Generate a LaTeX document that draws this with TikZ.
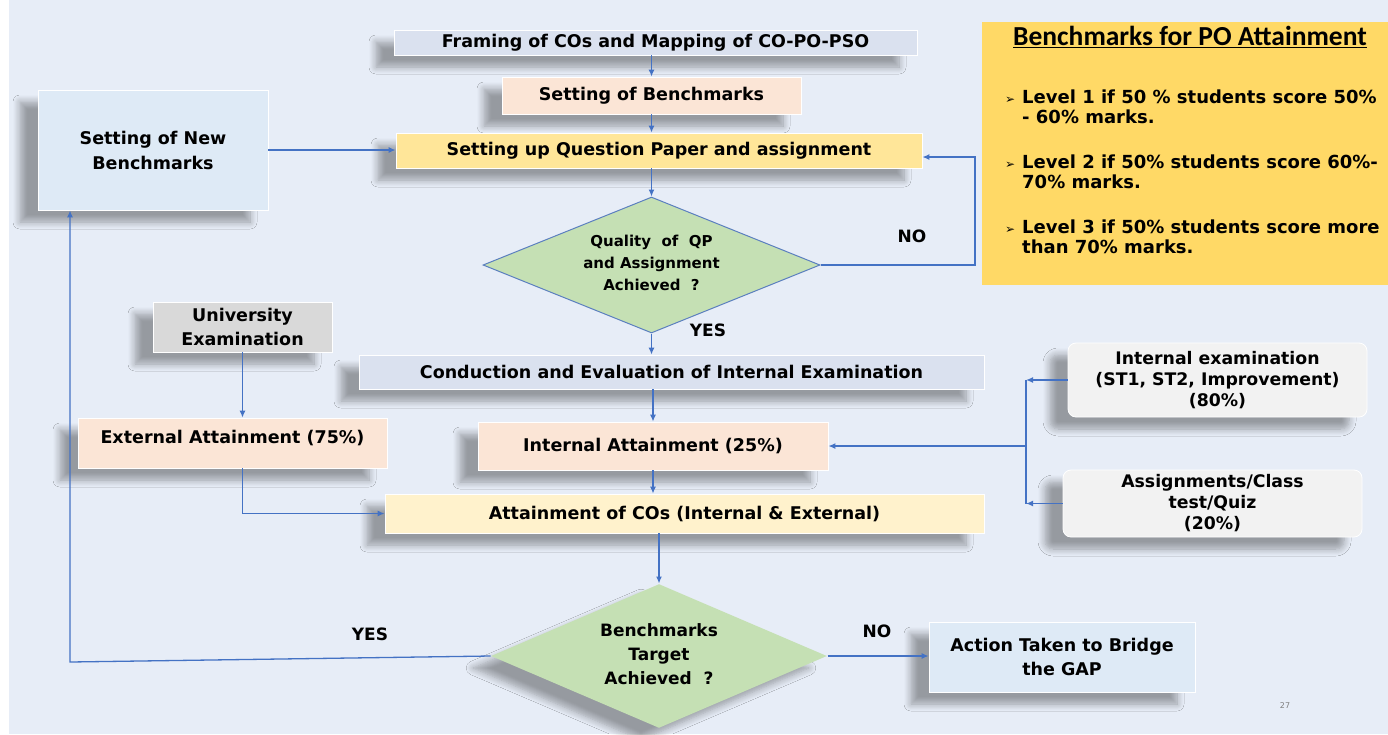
\documentclass[tikz,border=0pt]{standalone}
\usepackage{fontspec}
\setmainfont{DejaVu Sans}
\newfontfamily\fc{Carlito}
\usetikzlibrary{arrows.meta,shadows.blur,shapes.geometric}
\definecolor{bg}{HTML}{E7EDF7}
\definecolor{lnc}{HTML}{4472C4}
\definecolor{framec}{HTML}{DAE1EF}
\definecolor{peach}{HTML}{FBE5D6}
\definecolor{qpy}{HTML}{FFE699}
\definecolor{acoy}{HTML}{FFF2CC}
\definecolor{nbb}{HTML}{DEEAF6}
\definecolor{greyb}{HTML}{D9D9D9}
\definecolor{ieg}{HTML}{F2F2F2}
\definecolor{bmy}{HTML}{FFD966}
\definecolor{dgreen}{HTML}{C5E0B4}
\definecolor{dbord}{HTML}{5B7FBF}
\newcommand{\ditext}[2][-4pt]{\smash{\raisebox{#1}{\makebox[0pt]{\begin{tabular}{@{}c@{}}#2\end{tabular}}}}}
\begin{document}
\begin{tikzpicture}[x=1pt,y=-1pt,
  box/.style={draw=white,line width=0.8pt,inner sep=0pt,align=center,
    font=\bfseries\fontsize{17.5}{24}\selectfont},
  shd/.style={blur shadow={shadow xshift=-18pt,shadow yshift=-12pt,
    shadow blur radius=7pt,shadow blur steps=8,shadow opacity=35}},
  dia/.style={shape=diamond,draw=dbord,line width=1pt,fill=dgreen,inner sep=0pt},
  arr/.style={draw=lnc,line width=1.3pt,-{Latex[length=7pt,width=6pt]}},
  ln/.style={draw=lnc,line width=1.3pt},
  lbl/.style={font=\bfseries\fontsize{17}{20}\selectfont},
  lev/.style={anchor=north west,inner sep=0pt,align=left,
    font=\bfseries\fontsize{18}{20}\selectfont}]
\useasboundingbox (0,0) rectangle (1388,734);
\fill[white] (0,0) rectangle (1388,734);
\fill[bg] (9,0) rectangle (1388,734);

% benchmark panel
\node[fill=bmy,minimum width=406pt,minimum height=263pt,inner sep=0pt] (bm) at (1185,153.5) {};
\node[font=\fc\bfseries\fontsize{27.5}{28}\selectfont,inner sep=0pt] (bmt) at (1190,37) {\underline{Benchmarks for PO Attainment}};
\node[lev] (l1) at (1005,90) {\makebox[17pt][l]{\fontsize{12}{12}\selectfont ➢}Level 1 if 50 \% students score 50\%\\\hspace*{17pt}- 60\% marks.};
\node[lev] (l2) at (1005,155) {\makebox[17pt][l]{\fontsize{12}{12}\selectfont ➢}Level 2 if 50\% students score 60\%-\\\hspace*{17pt}70\% marks.};
\node[lev] (l3) at (1005,220) {\makebox[17pt][l]{\fontsize{12}{12}\selectfont ➢}Level 3 if 50\% students score more\\\hspace*{17pt}than 70\% marks.};

% main column
\node[box,shd,fill=framec,minimum width=523pt,minimum height=25pt] (frame) at (655.5,42.5) {Framing of COs and Mapping of CO-PO-PSO};
\node[box,shd,fill=peach,minimum width=299pt,minimum height=37pt] (bench) at (651.5,95.5) {Setting of Benchmarks};
\node[box,shd,fill=qpy,minimum width=526pt,minimum height=35pt] (qp) at (659,150.5) {Setting up Question Paper and assignment};
\node[box,shd,fill=nbb,minimum width=230pt,minimum height=120pt,font=\bfseries\fontsize{17.5}{25}\selectfont] (nb) at (153,150) {Setting of New\\Benchmarks};
\node[dia,minimum width=337pt,minimum height=136pt,font=\bfseries\fontsize{15}{22}\selectfont] (d1) at (651.5,265) {\ditext[-3pt]{Quality~ of~ QP\\and Assignment\\Achieved~ ?}};
\node[lbl] (no1) at (912,236) {NO};
\node[lbl] (yes1) at (708,330) {YES};
\node[box,shd,fill=framec,minimum width=625pt,minimum height=34pt] (cond) at (671.5,372) {Conduction and Evaluation of Internal Examination};
\node[box,shd,fill=greyb,minimum width=179pt,minimum height=50pt] (univ) at (242.5,327) {University\\Examination};
\node[box,shd,fill=peach,minimum width=309pt,minimum height=50pt,text height=12pt,text depth=12pt] (ext) at (232.5,443) {External Attainment (75\%)};
\node[box,shd,fill=peach,minimum width=350pt,minimum height=48pt] (ia) at (653,446) {Internal Attainment (25\%)};
\node[box,shd,fill=acoy,minimum width=599pt,minimum height=39pt] (aco) at (684.5,513.5) {Attainment of COs (Internal \& External)};
\node[box,shd,fill=ieg,rounded corners=8pt,minimum width=299pt,minimum height=74pt,font=\bfseries\fontsize{17.3}{21}\selectfont] (ie) at (1217.5,380) {Internal examination\\(ST1, ST2, Improvement)\\(80\%)};
\node[box,shd,fill=ieg,rounded corners=8pt,minimum width=299pt,minimum height=67pt,font=\bfseries\fontsize{17.3}{21}\selectfont] (asg) at (1212.5,503.5) {Assignments/Class\\test/Quiz\\(20\%)};
\node[dia,shd,draw=none,minimum width=336pt,minimum height=144pt,font=\bfseries\fontsize{17}{24}\selectfont] (d2) at (659,656) {\ditext[-4pt]{Benchmarks\\Target\\Achieved~ ?}};
\node[lbl] (yes2) at (370,634) {YES};
\node[lbl] (no2) at (877,631) {NO};
\node[box,shd,fill=nbb,minimum width=266pt,minimum height=70pt] (act) at (1062,657) {Action Taken to Bridge\\the GAP};
\node[text=gray,font=\fontsize{8}{8}\selectfont] (pg) at (1285,706) {27};

% connectors
\draw[arr] (bench.north |- frame.south) -- (bench.north);
\draw[arr] (bench.south) -- (bench.south |- qp.north);
\draw[arr] (d1.north |- qp.south) -- (d1.north);
\coordinate (c2) at (975,157);
\draw[arr] (d1.east) -| (c2) -- (c2 -| qp.east);
\draw[arr] (nb.east) -- (nb.east -| qp.west);
\draw[arr] (d1.south) -- (d1.south |- cond.north);
\draw[arr] (ia.north |- cond.south) -- (ia.north);
\draw[arr] (ia.south) -- (ia.south |- aco.north);
\draw[arr] (univ.south) -- (univ.south |- ext.north);
\draw[arr] (univ.south |- ext.south) |- (aco.west);
\coordinate (b1) at (1026,381);
\draw[arr] (ie.west) -- (ie.west -| b1);
\draw[arr] (asg.west) -- (asg.west -| b1);
\draw[ln] (ie.west -| b1) -- (asg.west -| b1);
\draw[arr] (b1 |- ia.east) -- (ia.east);
\draw[arr] (d2.north |- aco.south) -- (d2.north);
\draw[arr] (d2.east) -- (d2.east -| act.west);
\coordinate (c1) at (70,662);
\draw[arr] (d2.west) -- (c1) -- (c1 |- nb.south);
\end{tikzpicture}
\end{document}
